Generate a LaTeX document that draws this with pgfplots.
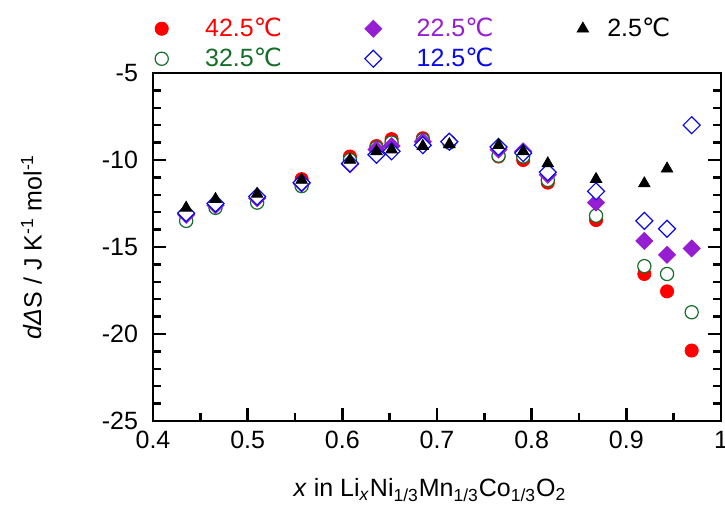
\documentclass[border=0pt]{standalone}
\usepackage{pgfplots}
\usepackage{pgfplotstable}
\pgfplotsset{compat=1.18}
\usepackage{fontspec}
\setmainfont{Liberation Sans}
\newfontfamily\dejavu{DejaVu Sans}
\newcommand{\degC}{{\dejavu\char"2103}}
\definecolor{cR}{RGB}{255,0,0}
\definecolor{cG}{RGB}{20,110,40}
\definecolor{cP}{RGB}{150,30,210}
\definecolor{cB}{RGB}{10,10,230}

% columns: 42.5, 32.5, 22.5, 12.5 degC
\pgfplotstableread{
x      r       g       p       b
0.435 -13.20 -13.50 -13.15 -13.05
0.466 -12.60 -12.75 -12.60 -12.50
0.510 -12.20 -12.45 -12.20 -12.10
0.557 -11.10 -11.50 -11.35 -11.30
0.608  -9.80 -10.00 -10.25 -10.20
0.636  -9.20  -9.30  -9.40  -9.70
0.652  -8.80  -9.00  -9.20  -9.50
0.685  -8.75  -8.85  -8.95  -9.15
0.713  -8.95  -9.00  -8.95  -8.95
0.765  -9.80  -9.75  -9.40  -9.25
0.791 -10.00  -9.80  -9.50  -9.60
0.817 -11.30 -11.15 -10.85 -10.70
0.868 -13.45 -13.20 -12.45 -11.80
0.919 -16.55 -16.10 -14.65 -13.50
0.943 -17.55 -16.55 -15.45 -13.95
0.969 -20.95 -18.75 -15.08  -8.00
}\dS
% 2.5 degC
\pgfplotstableread{
x      k
0.435 -12.75
0.466 -12.25
0.510 -11.95
0.557 -11.15
0.608 -10.00
0.636  -9.50
0.652  -9.40
0.685  -9.20
0.713  -9.10
0.765  -9.15
0.791  -9.50
0.817 -10.20
0.868 -11.10
0.919 -11.35
0.943 -10.50
}\dK

\begin{document}%
\begin{tikzpicture}[font=\fontsize{12.5}{15}\selectfont]
\begin{axis}[
  scale only axis, width=284pt, height=174pt,
  xmin=0.4, xmax=1, ymin=-25, ymax=-5,
  xtick={0.4,0.5,0.6,0.7,0.8,0.9,1},
  ytick={-25,-20,-15,-10,-5},
  minor x tick num=1, minor y tick num=4,
  tick align=inside,
  xtick pos=left, ytick pos=both, yticklabel pos=left,
  major tick length=6.5pt, minor tick length=4pt,
  every tick/.style={black, line width=1.2pt},
  axis line style={line width=1.4pt},
  /pgf/number format/assume math mode=true,
  ticklabel style={font=\fontsize{12.5}{15}\selectfont},
  yticklabel style={xshift=-4pt},
  xticklabel style={yshift=-1.5pt},
  label style={font=\fontsize{12.5}{15}\selectfont},
  xlabel={\textit{x} in Li\textsubscript{\textit{x}}Ni\textsubscript{1/3}Mn\textsubscript{1/3}Co\textsubscript{1/3}O\textsubscript{2}},
  xlabel style={at={(axis description cs:0.4877,-0.218)}, anchor=base},
  ylabel={\textit{d}\textit{Δ}S / J K\textsuperscript{-1} mol\textsuperscript{-1}},
  ylabel style={at={(axis description cs:-0.183,0.5)}, anchor=south},
  legend columns=3,
  legend cell align=left,
  legend image code/.code={\path (-3pt,0pt) (19.5pt,0pt); \draw[#1] plot coordinates {(0pt,0pt)};},
  short img/.style={legend image code/.code={\path (-3pt,0pt) (10pt,0pt); \draw[##1] plot coordinates {(0pt,0pt)};}},
  legend style={draw=none, fill=none, inner sep=0pt,
    at={(axis description cs:0.003,1.17)}, anchor=north west,
    font=\fontsize{12.5}{15}\selectfont, row sep=0.5pt,
    nodes={text height=9.5pt, text depth=2pt, inner ysep=1.5pt, inner xsep=2pt},
    /tikz/every even column/.append style={column sep=39.5pt}},
]
\addplot[only marks, mark=*, mark size=3.3pt, cR, forget plot] table[x=x,y=r]{\dS};
\addplot[only marks, mark=*, mark size=3.3pt, cG, mark options={fill=white, draw=cG, line width=0.6pt}, forget plot] table[x=x,y=g]{\dS};
\addplot[only marks, mark=square*, mark size=3pt, cP, mark options={rotate=45}, forget plot] table[x=x,y=p]{\dS};
\addplot[only marks, mark=square*, mark size=3pt, cB, mark options={rotate=45, fill=white, draw=cB, line width=0.6pt}, forget plot] table[x=x,y=b]{\dS};
\addplot[only marks, mark=triangle*, mark size=3.3pt, black, forget plot] table[x=x,y=k]{\dK};

\addlegendimage{only marks, mark=*, mark size=3.3pt, cR}
\addlegendentry{\textcolor{cR}{42.5\degC}}
\addlegendimage{only marks, mark=square*, mark size=3pt, cP, mark options={rotate=45}}
\addlegendentry{\textcolor{cP}{22.5\degC}}
\addlegendimage{only marks, mark=triangle*, mark size=3.3pt, black, short img}
\addlegendentry{2.5\degC}
\addlegendimage{only marks, mark=*, mark size=3.3pt, cG, mark options={fill=white, draw=cG, line width=0.6pt}}
\addlegendentry{\textcolor{cG}{32.5\degC}}
\addlegendimage{only marks, mark=square*, mark size=3pt, cB, mark options={rotate=45, fill=white, draw=cB, line width=0.6pt}}
\addlegendentry{\textcolor{cB}{12.5\degC}}

\coordinate (bbA) at (axis description cs:-0.2694,1.2098);
\coordinate (bbB) at (axis description cs:1.007,-0.247);
\end{axis}
\pgfresetboundingbox
\useasboundingbox (bbA) rectangle (bbB);
\end{tikzpicture}%
\end{document}
